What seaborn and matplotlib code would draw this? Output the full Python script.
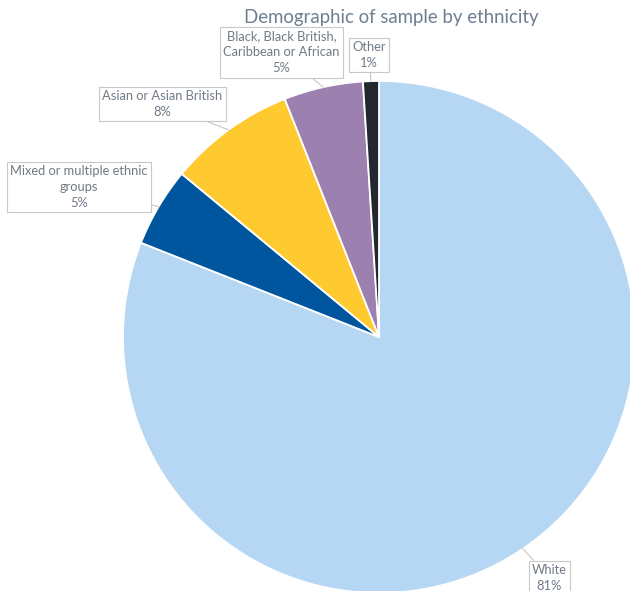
import numpy as np
import matplotlib
matplotlib.use("Agg")
import matplotlib.pyplot as plt
import seaborn as sns

# Sample composition by ethnicity (percent of respondents)
categories = ["White", "Mixed or multiple ethnic\ngroups", "Asian or Asian British",
              "Black, Black British,\nCaribbean or African", "Other"]
shares = [81, 5, 8, 5, 1]
colors = ["#B6D7F3", "#00569E", "#FFCA30", "#9C80B0", "#23272E"]

# Callout box centres, in figure pixels measured from the top-left corner
label_centres = [(549.5, 578), (79, 187), (162.5, 104), (281.5, 52.5), (369, 55)]

sns.set_theme(style="white")
plt.rcParams["font.family"] = ["Lato", "DejaVu Sans"]

W, H = 630, 591
fig = plt.figure(figsize=(W / 100, H / 100), dpi=100)

# Pie centre and radius in pixels
cx, cy, r = 379, 337, 256
ax = fig.add_axes([(cx - r) / W, (H - cy - r) / H, 2 * r / W, 2 * r / H])

wedges, _ = ax.pie(shares, colors=colors, startangle=90, counterclock=False,
                   radius=1.0, wedgeprops=dict(edgecolor="white", linewidth=1.3))
ax.set_xlim(-1, 1)
ax.set_ylim(-1, 1)
ax.set_aspect("equal")
ax.axis("off")

text_color = "#6F7A86"
for w, name, val, (lx, ly) in zip(wedges, categories, shares, label_centres):
    mid = np.deg2rad((w.theta1 + w.theta2) / 2)
    tip = (np.cos(mid), np.sin(mid))
    ax.annotate(f"{name}\n{val}%", xy=tip, xycoords="data",
                xytext=(lx / W, 1 - ly / H), textcoords="figure fraction",
                ha="center", va="center", fontsize=9.3, color=text_color,
                linespacing=1.4, annotation_clip=False,
                bbox=dict(boxstyle="square,pad=0.25", fc="white", ec="#C8C8C8", lw=0.8),
                arrowprops=dict(arrowstyle="-", color="#C8C8C8", lw=0.8,
                                shrinkA=0, shrinkB=0))

fig.text(391 / W, 1 - 17 / H, "Demographic of sample by ethnicity",
         ha="center", va="center", fontsize=13.4, color="#6E7F91")

fig.savefig("out.png", dpi=100)
